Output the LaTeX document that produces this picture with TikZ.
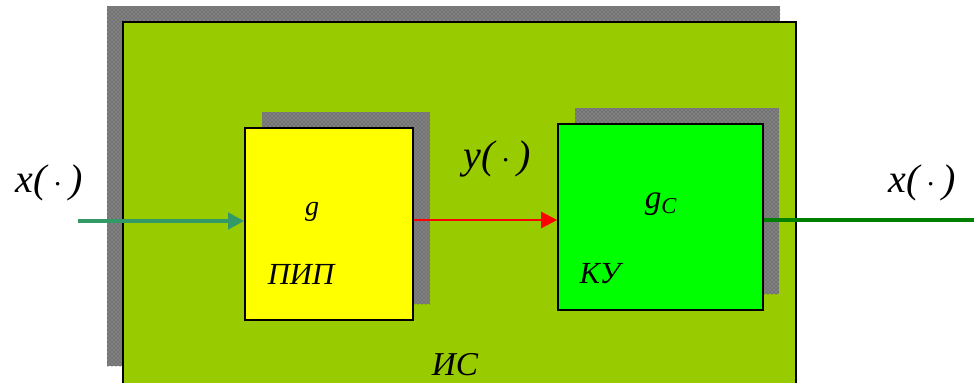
\documentclass[tikz,border=0pt]{standalone}
\usepackage{fontspec}
\setmainfont{Liberation Serif}
\usetikzlibrary{arrows.meta}
\usetikzlibrary{patterns}

\definecolor{olivegreen}{RGB}{153,204,0}
\definecolor{shadowgray}{RGB}{128,128,128}
\definecolor{tealline}{RGB}{51,153,102}
\definecolor{darkline}{RGB}{0,128,0}
\definecolor{boxyellow}{RGB}{255,255,0}
\definecolor{boxgreen}{RGB}{0,255,0}
\definecolor{sigred}{RGB}{255,0,0}

\tikzset{
  blockbox/.style={draw=black, line width=1.2pt, inner sep=0pt},
  shadowbox/.style={fill=shadowgray, draw=none},
  sig/.style={font=\fontsize{30}{34}\selectfont\itshape, inner sep=0.75pt},
  tag/.style={font=\fontsize{23}{26}\selectfont\itshape, inner sep=0.75pt},
}

\begin{document}
\begin{tikzpicture}[x=0.75pt,y=0.75pt,yscale=-1,xscale=1]
\useasboundingbox (0,0) rectangle (974,382);
\clip (0,0) rectangle (974,382);

%Shape: outer shadow and outer block
\fill [shadowbox] (107,6) rectangle (780,366) ;
\fill [pattern=crosshatch dots, pattern color=black!70] (107,6) rectangle (780,366) ;
\draw [fill=olivegreen, line width=1.2pt] (123,22) rectangle (796,392) ;

%Shape: shadows of the inner blocks
\fill [shadowbox] (262,112) rectangle (430,304) ;
\fill [pattern=crosshatch dots, pattern color=black!70] (262,112) rectangle (430,304) ;
\fill [shadowbox] (575,108) rectangle (779,294) ;
\fill [pattern=crosshatch dots, pattern color=black!70] (575,108) rectangle (779,294) ;

% Blocks
\node (pip) [blockbox, fill=boxyellow, minimum width=126pt, minimum height=144pt] at (329,224) {};
\node (ku) [blockbox, fill=boxgreen, minimum width=153.75pt, minimum height=139.5pt] at (660.5,217) {};

% Connectors
\coordinate (xin) at (78,221);
\coordinate (ymid) at (413,220);
\coordinate (xout) at (974,220);
\draw [color=tealline, line width=3pt, -{Triangle[length=12pt,width=12pt]}] (xin) -- (xin -| pip.west) ;
\draw [color=sigred, line width=1.8pt, -{Triangle[length=12pt,width=12pt]}] (pip.east |- ymid) -- (ymid -| ku.west) ;
\draw [color=darkline, line width=3.2pt] (ku.east |- xout) -- (xout) ;

% Text Node
\node (xlab) [sig] at (49,183) {x(\,$\cdot$\,)};
% Text Node
\node (ylab) [sig] at (497,159) {y(\,$\cdot$\,)};
% Text Node
\node (xlab2) [sig] at (922,183) {x(\,$\cdot$\,)};
% Text Node
\node (glab) [font=\fontsize{21}{24}\selectfont\itshape] at (312,212) {g};
% Text Node
\node (gclab) [font=\fontsize{25}{28}\selectfont\itshape] at (661,204) {g\textsubscript{\fontsize{17}{18}\selectfont C}};
% Text Node
\node (piplab) [tag] at (301,274) {ПИП};
% Text Node
\node (kulab) [tag] at (600,274) {КУ};
% Text Node
\node (islab) [font=\fontsize{25}{28}\selectfont\itshape] at (455,365) {ИС};

\end{tikzpicture}
\end{document}
